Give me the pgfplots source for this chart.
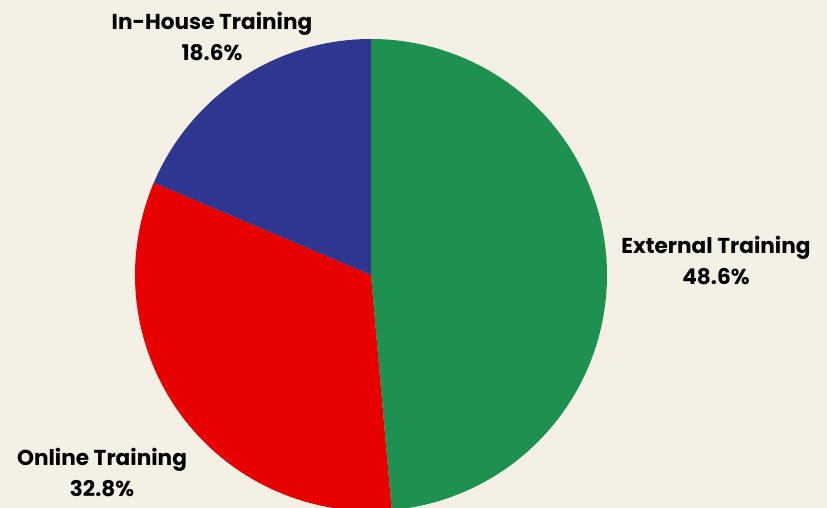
\documentclass[border=0pt]{standalone}
\usepackage{pgfplots}
\pgfplotsset{compat=1.18}
\usepackage{fontspec}
\setmainfont{Poppins}
\definecolor{bgBeige}{HTML}{F5F0E6}
\definecolor{pieGreen}{HTML}{1E9150}
\definecolor{pieRed}{HTML}{E60000}
\definecolor{pieNavy}{HTML}{2E368F}

% shares in percent, clockwise from 12 o'clock
\def\vExternal{48.6}
\def\vOnline{32.8}
\def\vInHouse{18.6}

\begin{document}
\begin{tikzpicture}
\fill[bgBeige] (0,0) rectangle (827pt,508pt);
\begin{axis}[
    anchor=origin, at={(0,0)},
    x=1pt, y=1pt,
    xmin=0, xmax=827, ymin=0, ymax=508,
    hide axis, clip=true,
    samples=120, variable=\t]
% External Training
\addplot[fill=pieGreen, draw=none, domain={90-3.6*\vExternal}:90]
  ({371+236*cos(\t)}, {233+236*sin(\t)}) -- (axis cs:371,233) -- cycle;
% Online Training
\addplot[fill=pieRed, draw=none,
  domain={90-3.6*(\vExternal+\vOnline)}:{90-3.6*\vExternal}]
  ({371+236*cos(\t)}, {233+236*sin(\t)}) -- (axis cs:371,233) -- cycle;
% In-House Training
\addplot[fill=pieNavy, draw=none,
  domain=-270:{90-3.6*(\vExternal+\vOnline)}]
  ({371+236*cos(\t)}, {233+236*sin(\t)}) -- (axis cs:371,233) -- cycle;

\tikzset{lbl/.style={font=\fontsize{21.6}{31}\selectfont\bfseries, align=center}}
\node[lbl] at (axis cs:212,471) {In-House Training\\18.6\%};
\node[lbl] at (axis cs:716,247) {External Training\\48.6\%};
\node[lbl] at (axis cs:102,35) {Online Training\\32.8\%};
\end{axis}
\pgfresetboundingbox
\useasboundingbox (0,0) rectangle (827pt,508pt);
\end{tikzpicture}
\end{document}
